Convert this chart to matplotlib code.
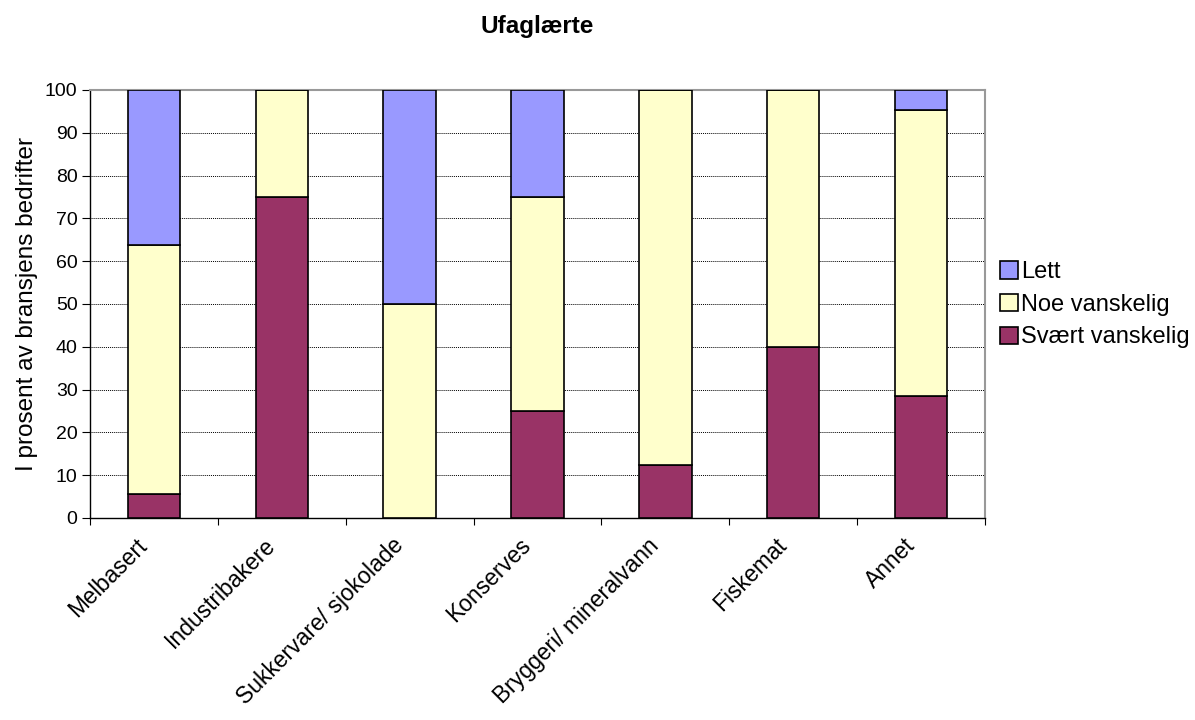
import matplotlib

matplotlib.use("Agg")
import matplotlib.pyplot as plt
import matplotlib.transforms as mtransforms
import numpy as np

plt.rcParams["font.family"] = ["Liberation Sans", "DejaVu Sans"]

categories = ["Melbasert", "Industribakere", "Sukkervare/ sjokolade", "Konserves",
              "Bryggeri/ mineralvann", "Fiskemat", "Annet"]
svaert = [5.6, 75.0, 0.0, 25.0, 12.5, 40.0, 28.57]
noe = [58.2, 25.0, 50.0, 50.0, 87.5, 60.0, 66.67]
lett = [36.2, 0.0, 50.0, 25.0, 0.0, 0.0, 4.76]

cols = {"svaert": "#993366", "noe": "#FFFFCC", "lett": "#9999FF"}

fig = plt.figure(figsize=(11.95, 7.2), dpi=100)
ax = fig.add_axes([90 / 1195, 1 - 518 / 720, 895 / 1195, 428 / 720])

x = np.arange(len(categories))
w = 0.41
s = np.array(svaert)
n = np.array(noe)
l = np.array(lett)
kw = dict(width=w, edgecolor="black", linewidth=1.2, zorder=3)
ax.bar(x, s, color=cols["svaert"], label="Svært vanskelig", **kw)
ax.bar(x, n, bottom=s, color=cols["noe"], label="Noe vanskelig", **kw)
ax.bar(x, l, bottom=s + n, color=cols["lett"], label="Lett", **kw)

ax.set_xlim(-0.5, len(categories) - 0.5)
ax.set_ylim(0, 100)
ax.set_yticks(range(0, 101, 10))
ax.yaxis.grid(True, color="black", linestyle=(0, (1, 1)), linewidth=0.7, zorder=0)

# ticks between categories; category names placed under bar centres
ax.set_xticks(np.arange(-0.5, len(categories), 1.0))
ax.set_xticklabels([])
ax.tick_params(axis="x", which="major", direction="out", length=5, color="black")
ax.tick_params(axis="y", direction="out", length=6, labelsize=14, color="black", pad=3)
off = mtransforms.ScaledTranslation(-18 / 100, -16 / 100, fig.dpi_scale_trans)
for xi, name in zip(x, categories):
    ax.text(xi, 0, name, transform=ax.get_xaxis_transform() + off, rotation=45,
            ha="right", va="top", rotation_mode="anchor", fontsize=16.5)

for side in ("top", "right"):
    ax.spines[side].set_color("#999999")
    ax.spines[side].set_linewidth(1.5)
for side in ("left", "bottom"):
    ax.spines[side].set_color("black")
    ax.spines[side].set_linewidth(1.0)

ax.set_ylabel("I prosent av bransjens bedrifter", fontsize=17.5, labelpad=5)
fig.text(537 / 1195, 1 - 27 / 720, "Ufaglærte", ha="center", va="center",
         fontsize=17.5, fontweight="bold")

h, lab = ax.get_legend_handles_labels()
ax.legend(h[::-1], lab[::-1], loc="center left", bbox_to_anchor=(0.993, 0.498),
          frameon=False, fontsize=17, handlelength=0.75, handleheight=0.75,
          handletextpad=0.15, labelspacing=0.45)

fig.savefig("out.png", dpi=100)
